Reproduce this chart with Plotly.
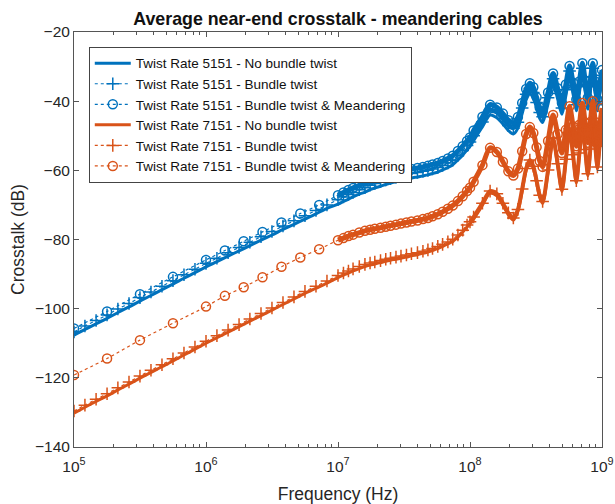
import plotly.graph_objects as go

# ---------------- data ----------------
# frequencies in MHz
F_SPARSE_MHZ = [0.1, 0.178, 0.316, 0.562, 1.0, 1.39, 1.93, 2.68, 3.73, 5.18, 7.2]
F_FINE_MHZ = [0.1, 0.121, 0.147, 0.178, 0.215, 0.261, 0.316, 0.383, 0.464, 0.562, 0.681, 0.825,
              1.0, 1.21, 1.47, 1.78, 2.15, 2.61, 3.16, 3.83, 4.64, 5.62, 6.81, 8.25]
F_HIGH_MHZ = [10, 11, 12, 13, 14.5, 16, 17.5, 19, 21, 23, 25, 27.5, 30, 33, 36, 40, 44, 48, 52, 57,
              62, 68, 74, 81, 88, 95, 100,
              106.5, 124.25, 142, 159.75, 177.5, 195.25, 213, 230.75, 248.5, 266.25, 284, 301.75,
              319.5, 337.25, 355,
              390.5, 426, 461.5, 497, 532.5, 568, 603.5, 639, 674.5, 710, 745.5, 781, 816.5, 852,
              887.5, 923, 958.5, 1000]

# Twist rate 5151
B_NOTWIST_LOW = [-107.7, -106.0, -104.4, -102.8, -101.1, -99.5, -97.8, -96.2, -94.5, -92.9, -91.2, -89.6,
                 -87.9, -86.4, -84.8, -83.3, -81.8, -80.2, -78.7, -77.1, -75.6, -74.1, -72.6, -71.0]
B_NOTWIST_HIGH = [-69.8, -69.0, -68.3, -67.7, -66.9, -66.3, -65.6, -65.1, -64.6, -64.1, -63.7, -63.3, -62.9,
                  -62.5, -62.2, -61.9, -61.6, -61.3, -60.9, -60.5, -59.9, -59.2, -58.4, -57.0, -55.6, -54.1, -53.1,
                  -51.4, -47.4, -44.0, -44.8, -46.6, -48.5, -49.5, -47.8, -43.6, -39.6, -37.9, -39.1, -42.0, -45.0,
                  -46.2, -40.7, -35.0, -39.4, -43.8, -38.4, -33.0, -37.9, -42.8, -37.5, -32.2, -37.2, -42.3, -37.2,
                  -32.0, -37.5, -42.8, -38.5, -34.0]

B_TWIST_LOW = [-106.7, -105.0, -103.4, -101.8, -100.1, -98.5, -96.8, -95.2, -93.5, -91.9, -90.2, -88.6,
               -86.9, -85.4, -83.8, -82.3, -80.8, -79.2, -77.7, -76.1, -74.6, -73.1, -71.6, -70.0]
B_TWIST_HIGH = [-68.5, -67.7, -67.0, -66.4, -65.6, -65.0, -64.3, -63.8, -63.3, -62.8, -62.4, -62.0, -61.6,
                -61.2, -60.9, -60.6, -60.3, -60.0, -59.6, -59.2, -58.6, -57.9, -57.1, -55.7, -54.3, -52.8, -51.8,
                -50.0, -46.0, -42.5, -43.3, -45.1, -47.0, -47.8, -46.1, -42.0, -38.0, -36.3, -37.5, -40.4, -43.3,
                -44.5, -39.0, -33.5, -37.8, -42.0, -36.7, -31.3, -36.2, -41.0, -35.8, -30.5, -35.5, -40.5, -35.5,
                -30.5, -35.8, -41.0, -36.8, -32.5]

B_MEANDER_LOW = [-105.7, -100.8, -95.8, -90.8, -85.9, -83.2, -80.5, -77.8, -75.1, -72.5, -70.0]
B_MEANDER_HIGH = [-67.2, -66.4, -65.7, -65.1, -64.3, -63.7, -63.0, -62.5, -62.0, -61.5, -61.1, -60.7, -60.3,
                  -59.9, -59.6, -59.3, -59.0, -58.7, -58.3, -57.9, -57.3, -56.6, -55.8, -54.4, -53.0, -51.5, -50.5,
                  -48.5, -44.5, -41.0, -41.8, -43.6, -45.5, -46.3, -44.6, -40.5, -36.5, -34.8, -36.0, -38.9, -41.8,
                  -43.0, -37.5, -32.0, -36.3, -40.5, -35.2, -29.8, -34.7, -39.5, -34.3, -29.0, -34.0, -39.0, -34.0,
                  -29.0, -34.3, -39.5, -35.3, -31.0]

# Twist rate 7151
O_NOTWIST_LOW = [-130.2, -128.5, -126.8, -125.2, -123.5, -121.8, -120.1, -118.4, -116.8, -115.1, -113.4, -111.7,
                 -110.0, -108.4, -106.8, -105.2, -103.6, -102.0, -100.4, -98.8, -97.2, -95.6, -94.1, -92.6]
O_NOTWIST_HIGH = [-91.0, -90.3, -89.7, -89.1, -88.4, -87.8, -87.4, -87.1, -86.7, -86.3, -86.0, -85.7, -85.4,
                  -85.1, -84.7, -84.4, -84.0, -83.6, -83.2, -82.6, -82.0, -81.3, -80.5, -79.3, -77.9, -76.4, -75.5,
                  -74.1, -70.1, -66.6, -67.4, -70.1, -72.9, -74.4, -71.9, -66.0, -60.1, -57.6, -59.4, -63.6, -67.8,
                  -69.6, -60.5, -51.3, -58.7, -66.1, -57.4, -48.6, -56.1, -63.6, -55.6, -47.6, -54.6, -61.6, -54.4,
                  -47.1, -53.4, -59.6, -53.6, -47.6]

O_TWIST_LOW = [-129.6, -127.9, -126.2, -124.6, -122.9, -121.2, -119.5, -117.8, -116.2, -114.5, -112.8, -111.1,
               -109.4, -107.8, -106.2, -104.6, -103.0, -101.4, -99.8, -98.2, -96.6, -95.0, -93.5, -92.0]
O_TWIST_HIGH = [-90.4, -89.7, -89.1, -88.5, -87.8, -87.2, -86.8, -86.5, -86.1, -85.7, -85.4, -85.1, -84.8,
                -84.5, -84.1, -83.8, -83.4, -83.0, -82.6, -82.0, -81.4, -80.7, -79.9, -78.7, -77.3, -75.8, -74.9,
                -73.5, -69.5, -66.0, -66.8, -69.5, -72.3, -73.8, -71.3, -65.4, -59.5, -57.0, -58.8, -63.0, -67.2,
                -69.0, -59.9, -50.7, -58.1, -65.5, -56.8, -48.0, -55.5, -63.0, -55.0, -47.0, -54.0, -61.0, -53.8,
                -46.5, -52.8, -59.0, -53.0, -47.0]

O_MEANDER_LOW = [-119.2, -114.4, -109.1, -104.2, -99.4, -96.3, -93.8, -90.9, -87.9, -85.2, -82.8]
O_MEANDER_HIGH = [-80.2, -79.6, -79.0, -78.6, -78.0, -77.5, -77.2, -76.9, -76.6, -76.3, -76.0, -75.7, -75.4,
                  -75.1, -74.8, -74.5, -74.1, -73.8, -73.3, -72.7, -72.0, -71.1, -70.2, -68.9, -67.5, -66.0, -65.0,
                  -63.3, -58.5, -53.5, -54.7, -57.5, -60.3, -61.5, -59.5, -54.5, -49.5, -47.5, -49.2, -53.3, -57.3,
                  -59.0, -51.5, -44.0, -49.5, -55.0, -48.3, -41.5, -47.3, -53.0, -46.8, -40.5, -46.3, -52.0, -46.0,
                  -40.0, -46.0, -52.0, -47.0, -42.0]

NAMES = ["Twist Rate 5151 - No bundle twist",
         "Twist Rate 5151 - Bundle twist",
         "Twist Rate 5151 - Bundle twist & Meandering",
         "Twist Rate 7151 - No bundle twist",
         "Twist Rate 7151 - Bundle twist",
         "Twist Rate 7151 - Bundle twist & Meandering"]
TICK_EXP = [5, 6, 7, 8, 9]
Y_TICKS = [-140, -120, -100, -80, -60, -40, -20]

# ---------------- figure ----------------
BLUE = "#0072BD"
ORANGE = "#D95319"
FONT = "Liberation Sans, Arial, sans-serif"

f_sparse = [v * 1e6 for v in F_SPARSE_MHZ]
f_fine = [v * 1e6 for v in F_FINE_MHZ]
f_high = [v * 1e6 for v in F_HIGH_MHZ]
I100 = F_HIGH_MHZ.index(100)

# (name, x, y, colour, marker, dense-part x, dense-part y, band width)
series = [
    (NAMES[0], f_fine + f_high, B_NOTWIST_LOW + B_NOTWIST_HIGH, BLUE, None, None, None, 0),
    (NAMES[1], f_fine + f_high, B_TWIST_LOW + B_TWIST_HIGH, BLUE, "cross-thin-open",
     f_high[I100:], B_TWIST_HIGH[I100:], 4),
    (NAMES[2], f_sparse + f_high, B_MEANDER_LOW + B_MEANDER_HIGH, BLUE, "circle-open",
     f_high, B_MEANDER_HIGH, 5),
    (NAMES[3], f_fine + f_high, O_NOTWIST_LOW + O_NOTWIST_HIGH, ORANGE, None, None, None, 0),
    (NAMES[4], f_fine + f_high, O_TWIST_LOW + O_TWIST_HIGH, ORANGE, "cross-thin-open",
     f_high[I100:], O_TWIST_HIGH[I100:], 4),
    (NAMES[5], f_sparse + f_high, O_MEANDER_LOW + O_MEANDER_HIGH, ORANGE, "circle-open",
     f_high, O_MEANDER_HIGH, 5),
]

fig = go.Figure()
for name, x, y, color, sym, bx, by, bw in series:
    if sym is None:
        fig.add_trace(go.Scatter(x=x, y=y, name=name, mode="lines",
                                 line=dict(color=color, width=3, shape="spline", smoothing=0.8)))
    else:
        # densely packed markers in the reference form a ribbon along the curve
        fig.add_trace(go.Scatter(x=bx, y=by, mode="lines", showlegend=False, hoverinfo="skip",
                                 line=dict(color=color, width=bw, shape="spline", smoothing=0.8)))
        fig.add_trace(go.Scatter(x=x, y=y, name=name, mode="lines+markers",
                                 line=dict(color=color, width=1.2, dash="dot", shape="spline", smoothing=0.8),
                                 marker=dict(symbol=sym, size=9, color=color,
                                             line=dict(color=color, width=1.5))))

AX = "#555555"
fig.update_layout(
    width=615, height=504,
    margin=dict(l=74, r=13, t=32, b=57),
    paper_bgcolor="white", plot_bgcolor="white",
    font=dict(family=FONT, size=15, color="#262626"),
    title=dict(text="<b>Average near-end crosstalk - meandering cables</b>",
               x=0.5, xref="paper", xanchor="center",
               y=1 - 19 / 504, yref="container", yanchor="middle",
               font=dict(family=FONT, size=17.8, color="#111111")),
    legend=dict(x=0.028, y=0.964, xanchor="left", yanchor="top",
                bgcolor="white", bordercolor="#444444", borderwidth=1,
                font=dict(family=FONT, size=13.5, color="#111111"),
                tracegroupgap=0, itemwidth=36),
    showlegend=True,
)
fig.update_xaxes(
    type="log", range=[5, 9], automargin=False,
    tickvals=[10 ** e for e in TICK_EXP],
    ticktext=["10<sup>%d</sup>" % e for e in TICK_EXP],
    ticks="inside", ticklen=5, tickcolor=AX, ticklabelstandoff=5,
    showline=True, linecolor=AX, linewidth=1, mirror="ticks",
    showgrid=False, zeroline=False,
    minor=dict(ticks="inside", ticklen=3, tickcolor=AX, dtick="D1", showgrid=False),
    title=dict(text="Frequency (Hz)", font=dict(family=FONT, size=17.5, color="#262626"), standoff=15),
    tickfont=dict(family=FONT, size=15.5, color="#262626"),
)
fig.update_yaxes(
    range=[-140, -20], tickvals=Y_TICKS, automargin=False,
    ticks="inside", ticklen=5, tickcolor=AX,
    showline=True, linecolor=AX, linewidth=1, mirror="ticks",
    showgrid=False, zeroline=False,
    title=dict(text="Crosstalk (dB)", font=dict(family=FONT, size=17.5, color="#262626"), standoff=5),
    tickfont=dict(family=FONT, size=15.5, color="#262626"),
)

fig.write_html("out.html", config={"displayModeBar": False},
               post_script="document.body.style.margin='0';document.body.style.padding='0';")
